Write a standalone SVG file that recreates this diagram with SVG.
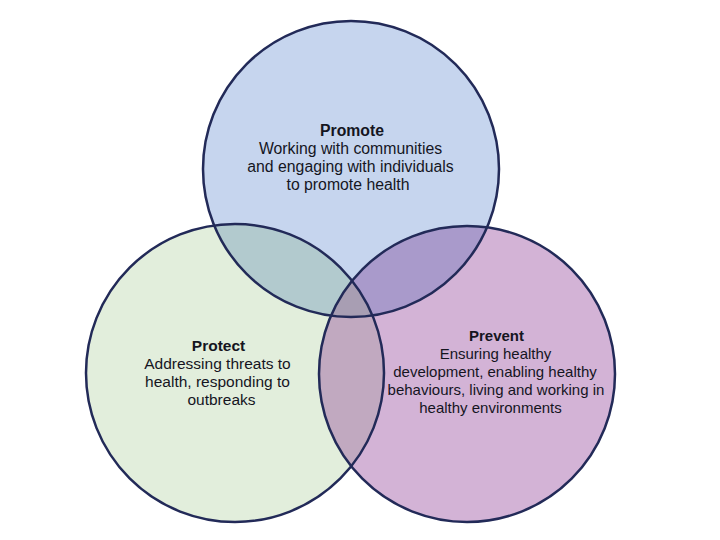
<svg xmlns="http://www.w3.org/2000/svg" width="720" height="540" viewBox="0 0 720 540">
  <style>
    .outline { fill: none; stroke: #222a58; stroke-width: 2.5; }
    .t { font-family: "Liberation Sans", Arial, sans-serif; fill: #15151f; text-anchor: middle; }
    .title { font-weight: bold; }
    .big { font-size: 15.5px; }
    .pro { font-size: 15.8px; }
    .small { font-size: 15px; }
  </style>
  <defs>
    <circle id="cPromote" cx="351" cy="169" r="148"/>
    <circle id="cProtect" cx="235" cy="373" r="149"/>
    <circle id="cPrevent" cx="467" cy="374" r="148"/>
    <clipPath id="clipPromote"><use href="#cPromote"/></clipPath>
    <clipPath id="clipProtect"><use href="#cProtect"/></clipPath>
    <clipPath id="clipPrevent"><use href="#cPrevent"/></clipPath>
  </defs>
  <rect width="720" height="540" fill="#ffffff"/>
  <g id="fills">
    <use href="#cPromote" fill="#c6d5ee"/>
    <use href="#cProtect" fill="#e2eedc"/>
    <use href="#cPrevent" fill="#d3b3d6"/>
  </g>
  <g id="overlaps">
    <g clip-path="url(#clipPromote)"><use href="#cProtect" fill="#b2cace"/></g>
    <g clip-path="url(#clipPromote)"><use href="#cPrevent" fill="#a99acb"/></g>
    <g clip-path="url(#clipProtect)"><use href="#cPrevent" fill="#c1a9c0"/></g>
    <g clip-path="url(#clipPromote)"><g clip-path="url(#clipProtect)"><use href="#cPrevent" fill="#a89eb3"/></g></g>
  </g>
  <g id="promote">
    <use href="#cPromote" class="outline"/>
    <text class="t pro title" x="352" y="136">Promote</text>
    <text class="t pro" x="350.5" y="154">Working with communities</text>
    <text class="t pro" x="350.5" y="172">and engaging with individuals</text>
    <text class="t pro" x="348" y="190">to promote health</text>
  </g>
  <g id="protect">
    <use href="#cProtect" class="outline"/>
    <text class="t big title" x="218.5" y="351">Protect</text>
    <text class="t big" x="217.5" y="369">Addressing threats to</text>
    <text class="t big" x="217.5" y="387">health, responding to</text>
    <text class="t big" x="221.5" y="405">outbreaks</text>
  </g>
  <g id="prevent">
    <use href="#cPrevent" class="outline"/>
    <text class="t small title" x="496.5" y="341">Prevent</text>
    <text class="t small" x="495.5" y="359">Ensuring healthy</text>
    <text class="t small" x="495" y="377">development, enabling healthy</text>
    <text class="t small" x="496" y="395">behaviours, living and working in</text>
    <text class="t small" x="490.5" y="413">healthy environments</text>
  </g>
</svg>
